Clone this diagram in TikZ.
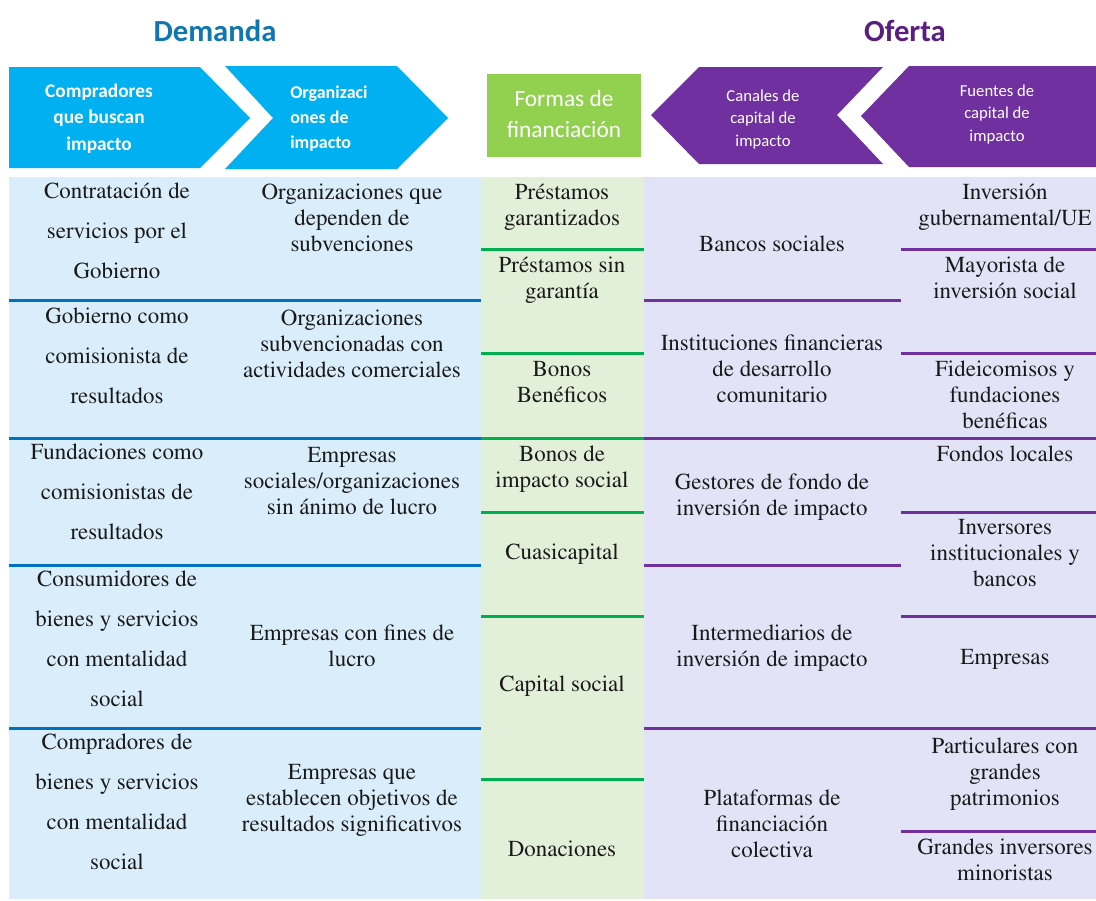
\documentclass[tikz,border=0pt]{standalone}
\usepackage[T1]{fontenc}
\usepackage{fontspec}
\newfontfamily\hdfont{Carlito}
\newcommand\cellserif{\fontencoding{T1}\fontfamily{ptm}\fontseries{m}\fontshape{n}}
\definecolor{chevblue}{HTML}{00B0F0}
\definecolor{chevpurple}{HTML}{7030A0}
\definecolor{boxgreen}{HTML}{92D050}
\definecolor{bgblue}{RGB}{218,237,250}
\definecolor{bggreen}{RGB}{226,239,217}
\definecolor{bglav}{RGB}{227,227,247}
\definecolor{lnblue}{HTML}{0070C0}
\definecolor{lngreen}{HTML}{00B050}
\definecolor{lnpurple}{HTML}{7030A0}
\definecolor{titleblue}{RGB}{16,118,178}
\definecolor{titlepurple}{RGB}{88,30,128}
\newcommand\cellA{\cellserif\fontsize{17.2}{30}\selectfont}
\newcommand\cellB{\cellserif\fontsize{17.2}{19.4}\selectfont}
\begin{document}
\begin{tikzpicture}[x=0.75pt,y=-0.75pt,
  cella/.style={align=center,inner sep=0pt,text=black!90,font=\cellA},
  cellb/.style={align=center,inner sep=0pt,text=black!90,font=\cellB},
  sepline/.style={line width=2.25pt},
  titletext/.style={inner sep=0pt,font=\hdfont\bfseries\fontsize{23}{27}\selectfont},
  hdbold/.style={inner sep=0pt,text=white,font=\hdfont\bfseries\fontsize{14.5}{20}\selectfont,align=center},
  hdsmall/.style={inner sep=0pt,text=white,font=\hdfont\fontsize{12.5}{17}\selectfont,align=center}]
\useasboundingbox (0,0) rectangle (1096,900);
% titles
\node[titletext,text=titleblue] (demanda) at (215,31) {Demanda};
\node[titletext,text=titlepurple] (oferta) at (905,31) {Oferta};
% header shapes
\fill[chevblue] (9,67) -- (200,67) -- (250,118) -- (200,168) -- (9,168) -- cycle;
\fill[chevblue] (225,66) -- (397,66) -- (448,118) -- (397,169) -- (225,169) -- (273,118) -- cycle;
\fill[boxgreen] (487,74) rectangle (641,157);
\fill[chevpurple] (651,115) -- (699,67) -- (883,67) -- (837,115) -- (883,164) -- (699,164) -- cycle;
\fill[chevpurple] (861,116) -- (909,66) -- (1096,66) -- (1096,167) -- (909,167) -- cycle;
\node[hdbold] (hcomp) at (99,118.5) {Compradores\\que buscan\\impacto};
\node[hdbold,font=\hdfont\bfseries\fontsize{13.5}{18.75}\selectfont,align=left,anchor=west] (horg) at (290,119) {Organizaci\\ones de\\impacto};
\node[inner sep=0pt,text=white,font=\hdfont\fontsize{17.5}{23}\selectfont,align=center] (hformas) at (564,114) {Formas de\\financiación};
\node[hdsmall] (hcan) at (763,119.5) {Canales de\\capital de\\impacto};
\node[hdsmall] (hfue) at (997,114.5) {Fuentes de\\capital de\\impacto};
% table backgrounds
\fill[bgblue] (9,177) rectangle (481,899);
\fill[bggreen] (481,177) rectangle (644,899);
\fill[bglav] (644,177) rectangle (1096,899);
% separators
\foreach \y in {300,438,565,728} \draw[sepline,lnblue] (9,\y) -- (481,\y);
\foreach \y in {249,353,438,512,616,779} \draw[sepline,lngreen] (481,\y) -- (644,\y);
\foreach \y in {300,438,565,728} \draw[sepline,lnpurple] (644,\y) -- (901,\y);
\foreach \y in {249,353,438,512,616,728,831} \draw[sepline,lnpurple] (901,\y) -- (1096,\y);
% column 1
\node[cella] (a1) at (117,230) {\strut Contratación de\\servicios por el\\Gobierno\strut};
\node[cella] (a2) at (117,355) {\strut Gobierno como\\comisionista de\\resultados\strut};
\node[cella] (a3) at (117,491) {\strut Fundaciones como\\comisionistas de\\resultados\strut};
\node[cella] (a4) at (117,638) {\strut Consumidores de\\bienes y servicios\\con mentalidad\\social\strut};
\node[cella] (a5) at (117,801) {\strut Compradores de\\bienes y servicios\\con mentalidad\\social\strut};
% column 2
\node[cellb] (b1) at (352,220) {\strut Organizaciones que\\dependen de\\subvenciones\strut};
\node[cellb] (b2) at (352,346) {\strut Organizaciones\\subvencionadas con\\actividades comerciales\strut};
\node[cellb] (b3) at (352,483) {\strut Empresas\\sociales/organizaciones\\sin ánimo de lucro\strut};
\node[cellb] (b4) at (352,648) {\strut Empresas con fines de\\lucro\strut};
\node[cellb] (b5) at (352,800) {\strut Empresas que\\establecen objetivos de\\resultados significativos\strut};
% column 3 (green)
\node[cellb] (c1) at (562,207) {\strut Préstamos\\garantizados\strut};
\node[cellb] (c2) at (562,280) {\strut Préstamos sin\\garantía\strut};
\node[cellb] (c3) at (562,384) {\strut Bonos\\Benéficos\strut};
\node[cellb] (c4) at (562,469) {\strut Bonos de\\impacto social\strut};
\node[cellb] (c5) at (562,554) {\strut Cuasicapital\strut};
\node[cellb] (c6) at (562,686) {\strut Capital social\strut};
\node[cellb] (c7) at (562,851) {\strut Donaciones\strut};
% column 4
\node[cellb] (d1) at (772,246) {\strut Bancos sociales\strut};
\node[cellb] (d2) at (772,371) {\strut Instituciones financieras\\de desarrollo\\comunitario\strut};
\node[cellb] (d3) at (772,497) {\strut Gestores de fondo de\\inversión de impacto\strut};
\node[cellb] (d4) at (772,648) {\strut Intermediarios de\\inversión de impacto\strut};
\node[cellb] (d5) at (772,826) {\strut Plataformas de\\financiación\\colectiva\strut};
% column 5
\node[cellb] (e1) at (1005,207) {\strut Inversión\\gubernamental/UE\strut};
\node[cellb] (e2) at (1005,280) {\strut Mayorista de\\inversión social\strut};
\node[cellb] (e3) at (1005,397) {\strut Fideicomisos y\\fundaciones\\benéficas\strut};
\node[cellb] (e4) at (1005,456) {\strut Fondos locales\strut};
\node[cellb] (e5) at (1005,555) {\strut Inversores\\institucionales y\\bancos\strut};
\node[cellb] (e6) at (1005,659) {\strut Empresas\strut};
\node[cellb] (e7) at (1005,774) {\strut Particulares con\\grandes\\patrimonios\strut};
\node[cellb] (e8) at (1005,862) {\strut Grandes inversores\\minoristas\strut};
\end{tikzpicture}
\end{document}
